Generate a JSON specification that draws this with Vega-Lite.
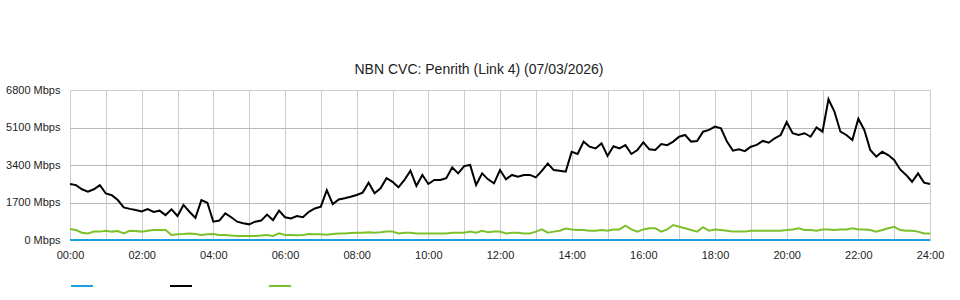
{
  "$schema": "https://vega.github.io/schema/vega-lite/v6.json",
  "width": 860,
  "height": 150,
  "autosize": {"type": "none"},
  "padding": {"left": 70, "top": 90, "right": 30, "bottom": 60},
  "background": "white",
  "title": {"text": "NBN CVC: Penrith (Link 4) (07/03/2026)", "fontSize": 14, "font": "Liberation Sans", "fontWeight": "normal", "color": "#222222", "anchor": "middle", "dx": -21, "offset": 7},
  "data": {"values": [
    {"t":0,"s1":0,"s2":2540,"s3":500},{"t":10,"s1":0,"s2":2490,"s3":450},{"t":20,"s1":0,"s2":2300,"s3":330},{"t":30,"s1":0,"s2":2190,"s3":300},{"t":40,"s1":0,"s2":2300,"s3":380},{"t":50,"s1":0,"s2":2490,"s3":380},
    {"t":60,"s1":0,"s2":2110,"s3":420},{"t":70,"s1":0,"s2":2030,"s3":380},{"t":80,"s1":0,"s2":1810,"s3":410},{"t":90,"s1":0,"s2":1480,"s3":300},{"t":100,"s1":0,"s2":1410,"s3":420},{"t":110,"s1":0,"s2":1360,"s3":410},
    {"t":120,"s1":0,"s2":1290,"s3":380},{"t":130,"s1":0,"s2":1400,"s3":420},{"t":140,"s1":0,"s2":1270,"s3":450},{"t":150,"s1":0,"s2":1330,"s3":450},{"t":160,"s1":0,"s2":1130,"s3":450},{"t":170,"s1":0,"s2":1390,"s3":230},
    {"t":180,"s1":0,"s2":1090,"s3":260},{"t":190,"s1":0,"s2":1590,"s3":270},{"t":200,"s1":0,"s2":1280,"s3":300},{"t":210,"s1":0,"s2":1000,"s3":270},{"t":220,"s1":0,"s2":1810,"s3":230},{"t":230,"s1":0,"s2":1690,"s3":260},
    {"t":240,"s1":0,"s2":830,"s3":270},{"t":250,"s1":0,"s2":880,"s3":230},{"t":260,"s1":0,"s2":1210,"s3":230},{"t":270,"s1":0,"s2":1030,"s3":200},{"t":280,"s1":0,"s2":830,"s3":180},{"t":290,"s1":0,"s2":760,"s3":180},
    {"t":300,"s1":0,"s2":710,"s3":180},{"t":310,"s1":0,"s2":830,"s3":180},{"t":320,"s1":0,"s2":880,"s3":200},{"t":330,"s1":0,"s2":1150,"s3":230},{"t":340,"s1":0,"s2":900,"s3":180},{"t":350,"s1":0,"s2":1330,"s3":300},
    {"t":360,"s1":0,"s2":1030,"s3":230},{"t":370,"s1":0,"s2":980,"s3":230},{"t":380,"s1":0,"s2":1090,"s3":210},{"t":390,"s1":0,"s2":1030,"s3":230},{"t":400,"s1":0,"s2":1280,"s3":270},{"t":410,"s1":0,"s2":1430,"s3":260},
    {"t":420,"s1":0,"s2":1510,"s3":260},{"t":430,"s1":0,"s2":2260,"s3":240},{"t":440,"s1":0,"s2":1630,"s3":270},{"t":450,"s1":0,"s2":1840,"s3":300},{"t":460,"s1":0,"s2":1890,"s3":300},{"t":470,"s1":0,"s2":1960,"s3":320},
    {"t":480,"s1":0,"s2":2040,"s3":330},{"t":490,"s1":0,"s2":2150,"s3":330},{"t":500,"s1":0,"s2":2600,"s3":350},{"t":510,"s1":0,"s2":2120,"s3":330},{"t":520,"s1":0,"s2":2340,"s3":350},{"t":530,"s1":0,"s2":2800,"s3":380},
    {"t":540,"s1":0,"s2":2640,"s3":380},{"t":550,"s1":0,"s2":2390,"s3":300},{"t":560,"s1":0,"s2":2720,"s3":330},{"t":570,"s1":0,"s2":3140,"s3":330},{"t":580,"s1":0,"s2":2450,"s3":300},{"t":590,"s1":0,"s2":2950,"s3":300},
    {"t":600,"s1":0,"s2":2540,"s3":300},{"t":610,"s1":0,"s2":2720,"s3":300},{"t":620,"s1":0,"s2":2720,"s3":300},{"t":630,"s1":0,"s2":2800,"s3":300},{"t":640,"s1":0,"s2":3290,"s3":330},{"t":650,"s1":0,"s2":3020,"s3":330},
    {"t":660,"s1":0,"s2":3350,"s3":330},{"t":670,"s1":0,"s2":3400,"s3":380},{"t":680,"s1":0,"s2":2490,"s3":330},{"t":690,"s1":0,"s2":3020,"s3":420},{"t":700,"s1":0,"s2":2750,"s3":350},{"t":710,"s1":0,"s2":2570,"s3":380},
    {"t":720,"s1":0,"s2":3170,"s3":380},{"t":730,"s1":0,"s2":2750,"s3":300},{"t":740,"s1":0,"s2":2950,"s3":330},{"t":750,"s1":0,"s2":2870,"s3":330},{"t":760,"s1":0,"s2":2950,"s3":300},{"t":770,"s1":0,"s2":2950,"s3":300},
    {"t":780,"s1":0,"s2":2840,"s3":380},{"t":790,"s1":0,"s2":3130,"s3":480},{"t":800,"s1":0,"s2":3470,"s3":330},{"t":810,"s1":0,"s2":3170,"s3":380},{"t":820,"s1":0,"s2":3140,"s3":420},{"t":830,"s1":0,"s2":3100,"s3":520},
    {"t":840,"s1":0,"s2":4000,"s3":480},{"t":850,"s1":0,"s2":3900,"s3":450},{"t":860,"s1":0,"s2":4460,"s3":450},{"t":870,"s1":0,"s2":4230,"s3":420},{"t":880,"s1":0,"s2":4150,"s3":420},{"t":890,"s1":0,"s2":4380,"s3":450},
    {"t":900,"s1":0,"s2":3810,"s3":420},{"t":910,"s1":0,"s2":4250,"s3":480},{"t":920,"s1":0,"s2":4150,"s3":480},{"t":930,"s1":0,"s2":4300,"s3":650},{"t":940,"s1":0,"s2":3900,"s3":480},{"t":950,"s1":0,"s2":4080,"s3":380},
    {"t":960,"s1":0,"s2":4430,"s3":480},{"t":970,"s1":0,"s2":4110,"s3":530},{"t":980,"s1":0,"s2":4080,"s3":530},{"t":990,"s1":0,"s2":4350,"s3":380},{"t":1000,"s1":0,"s2":4300,"s3":480},{"t":1010,"s1":0,"s2":4460,"s3":680},
    {"t":1020,"s1":0,"s2":4680,"s3":600},{"t":1030,"s1":0,"s2":4760,"s3":530},{"t":1040,"s1":0,"s2":4460,"s3":450},{"t":1050,"s1":0,"s2":4490,"s3":380},{"t":1060,"s1":0,"s2":4910,"s3":580},{"t":1070,"s1":0,"s2":4990,"s3":420},
    {"t":1080,"s1":0,"s2":5140,"s3":480},{"t":1090,"s1":0,"s2":5060,"s3":450},{"t":1100,"s1":0,"s2":4460,"s3":420},{"t":1110,"s1":0,"s2":4050,"s3":380},{"t":1120,"s1":0,"s2":4110,"s3":380},{"t":1130,"s1":0,"s2":4030,"s3":380},
    {"t":1140,"s1":0,"s2":4230,"s3":420},{"t":1150,"s1":0,"s2":4310,"s3":420},{"t":1160,"s1":0,"s2":4490,"s3":420},{"t":1170,"s1":0,"s2":4410,"s3":420},{"t":1180,"s1":0,"s2":4610,"s3":420},{"t":1190,"s1":0,"s2":4760,"s3":420},
    {"t":1200,"s1":0,"s2":5350,"s3":450},{"t":1210,"s1":0,"s2":4840,"s3":480},{"t":1220,"s1":0,"s2":4760,"s3":530},{"t":1230,"s1":0,"s2":4840,"s3":450},{"t":1240,"s1":0,"s2":4680,"s3":450},{"t":1250,"s1":0,"s2":5100,"s3":420},
    {"t":1260,"s1":0,"s2":4910,"s3":480},{"t":1270,"s1":0,"s2":6380,"s3":480},{"t":1280,"s1":0,"s2":5820,"s3":450},{"t":1290,"s1":0,"s2":4910,"s3":480},{"t":1300,"s1":0,"s2":4760,"s3":480},{"t":1310,"s1":0,"s2":4530,"s3":530},
    {"t":1320,"s1":0,"s2":5500,"s3":480},{"t":1330,"s1":0,"s2":4990,"s3":480},{"t":1340,"s1":0,"s2":4080,"s3":450},{"t":1350,"s1":0,"s2":3780,"s3":380},{"t":1360,"s1":0,"s2":4000,"s3":450},{"t":1370,"s1":0,"s2":3850,"s3":530},
    {"t":1380,"s1":0,"s2":3630,"s3":600},{"t":1390,"s1":0,"s2":3200,"s3":450},{"t":1400,"s1":0,"s2":2950,"s3":420},{"t":1410,"s1":0,"s2":2640,"s3":420},{"t":1420,"s1":0,"s2":3020,"s3":380},{"t":1430,"s1":0,"s2":2600,"s3":300},
    {"t":1440,"s1":0,"s2":2540,"s3":300}
  ]},
  "transform": [{"fold": ["s1", "s2", "s3"], "as": ["series", "value"]}],
  "mark": {"type": "line", "strokeWidth": 2, "clip": false},
  "encoding": {
    "x": {
      "field": "t", "type": "quantitative",
      "scale": {"domain": [0, 1440], "nice": false, "zero": false},
      "axis": {
        "values": [0,60,120,180,240,300,360,420,480,540,600,660,720,780,840,900,960,1020,1080,1140,1200,1260,1320,1380,1440],
        "title": null, "grid": true, "gridColor": "#cccccc", "gridWidth": 1, "domain": false, "ticks": false,
        "labelExpr": "datum.value % 120 == 0 ? ((datum.value < 600 ? '0' : '') + (datum.value / 60) + ':00') : ''",
        "labelPadding": 9, "labelFontSize": 11, "labelFont": "Liberation Sans", "labelColor": "#222222",
        "labelFlush": false, "labelOverlap": false
      }
    },
    "y": {
      "field": "value", "type": "quantitative",
      "scale": {"domain": [0, 6800], "nice": false},
      "axis": {
        "values": [0, 1700, 3400, 5100, 6800],
        "title": null, "grid": true,
        "gridColor": {"condition": {"test": "datum.value == 6800", "value": "#cccccc"}, "value": "#b8b8b8"},
        "domain": false, "ticks": false,
        "labelExpr": "datum.value + ' Mbps'",
        "labelPadding": 10, "labelFontSize": 11, "labelFont": "Liberation Sans", "labelColor": "#222222"
      }
    },
    "color": {
      "field": "series", "type": "nominal",
      "scale": {"domain": ["s1", "s2", "s3"], "range": ["#1a9fe0", "#000000", "#7cc12b"]},
      "legend": {
        "orient": "none", "legendX": 0, "legendY": 184, "direction": "horizontal",
        "title": null, "symbolType": "stroke", "symbolSize": 484, "symbolStrokeWidth": 2,
        "labelExpr": "''", "labelOffset": 0, "columnPadding": 69
      }
    }
  },
  "config": {"view": {"stroke": "#cccccc"}}
}
